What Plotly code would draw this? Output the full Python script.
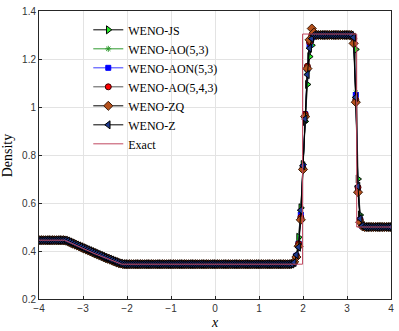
import numpy as np
import plotly.graph_objects as go

# Lax problem, density on a uniform grid (dx = 0.05) over [-4, 4]
X_GRID = np.round(np.linspace(-4.0, 4.0, 161), 2)

# shared smooth parts of the numerical solutions
RHO_LEFT = 0.445            # x = -4.00 .. -3.45  (12 points)
RAREFACTION = [0.444, 0.441, 0.437, 0.433, 0.429, 0.425, 0.421, 0.417, 0.413,
               0.409, 0.405, 0.401, 0.397, 0.393, 0.389, 0.385, 0.381, 0.377,
               0.373, 0.369, 0.366, 0.362, 0.358, 0.355, 0.351, 0.348, 0.346]  # x = -3.40 .. -2.10
RHO_STAR_L = 0.345          # x = -2.05 .. 1.70   (76 points)
RHO_STAR_R = 1.30           # x = 2.30 .. 3.05    (16 points)
RHO_RIGHT = 0.50            # x = 3.45 .. 4.00    (12 points)

# contact discontinuity, x = 1.75 .. 2.25
CONTACT = {
    "WENO-JS":       [0.346, 0.350, 0.370, 0.457, 0.580, 0.760, 0.940, 1.094, 1.210, 1.257, 1.290],
    "WENO-AO(5,3)":  [0.346, 0.352, 0.378, 0.440, 0.560, 0.750, 0.960, 1.150, 1.250, 1.290, 1.300],
    "WENO-AON(5,3)": [0.346, 0.352, 0.380, 0.430, 0.550, 0.750, 0.970, 1.160, 1.260, 1.290, 1.300],
    "WENO-AO(5,4,3)": [0.346, 0.353, 0.380, 0.430, 0.540, 0.745, 0.970, 1.170, 1.270, 1.300, 1.300],
    "WENO-ZQ":       [0.347, 0.355, 0.375, 0.420, 0.530, 0.740, 0.960, 1.160, 1.280, 1.327, 1.310],
    "WENO-Z":        [0.346, 0.352, 0.384, 0.416, 0.570, 0.755, 0.950, 1.135, 1.245, 1.285, 1.300],
}

# shock, x = 3.10 .. 3.40
SHOCK = {
    "WENO-JS":       [1.298, 1.285, 1.240, 0.700, 0.550, 0.510, 0.502],
    "WENO-AO(5,3)":  [1.298, 1.290, 1.060, 0.660, 0.530, 0.505, 0.500],
    "WENO-AON(5,3)": [1.299, 1.290, 1.050, 0.660, 0.530, 0.503, 0.500],
    "WENO-AO(5,4,3)": [1.299, 1.285, 1.030, 0.665, 0.530, 0.505, 0.500],
    "WENO-ZQ":       [1.300, 1.265, 1.020, 0.645, 0.520, 0.503, 0.500],
    "WENO-Z":        [1.299, 1.290, 1.040, 0.670, 0.535, 0.505, 0.500],
}

EXACT_X = [-4.0, -3.42, -2.75, -2.12, 1.99, 1.99, 3.22, 3.22, 4.0]
EXACT_RHO = [0.445, 0.445, 0.390, 0.345, 0.345, 1.304, 1.304, 0.500, 0.500]

STYLE = {
    "WENO-JS":        {"line": "#000000", "symbol": "triangle-right", "fill": "#22ee22", "edge": "#000000", "size": 7},
    "WENO-AO(5,3)":   {"line": "#2e9a2e", "symbol": "asterisk-open", "fill": "#2e9a2e", "edge": "#2e9a2e", "size": 5},
    "WENO-AON(5,3)":  {"line": "#3a3aff", "symbol": "square", "fill": "#0000ff", "edge": "#0000ff", "size": 5},
    "WENO-AO(5,4,3)": {"line": "#555555", "symbol": "circle", "fill": "#ff0000", "edge": "#3a0000", "size": 6},
    "WENO-ZQ":        {"line": "#000000", "symbol": "diamond", "fill": "#b4501c", "edge": "#3a1a08", "size": 7},
    "WENO-Z":         {"line": "#000000", "symbol": "triangle-left", "fill": "#1f3a8f", "edge": "#000000", "size": 7},
}


def scheme_profile(name):
    rho = ([RHO_LEFT] * 12 + RAREFACTION + [RHO_STAR_L] * 76 + CONTACT[name]
           + [RHO_STAR_R] * 16 + SHOCK[name] + [RHO_RIGHT] * 12)
    return np.array(rho)


fig = go.Figure()

for name, st in STYLE.items():
    fig.add_trace(go.Scatter(
        x=X_GRID, y=scheme_profile(name), name=name, mode="lines+markers",
        line=dict(color=st["line"], width=1),
        marker=dict(symbol=st["symbol"], size=st["size"], color=st["fill"],
                    line=dict(color=st["edge"], width=1)),
    ))

fig.add_trace(go.Scatter(
    x=EXACT_X, y=EXACT_RHO, name="Exact", mode="lines",
    line=dict(color="#c04860", width=1),
))

axis_common = dict(
    showgrid=True, gridcolor="#e3e3e3", gridwidth=1,
    showline=True, linecolor="#262626", linewidth=1, mirror=True,
    ticks="inside", ticklen=3, tickcolor="#262626",
    tickfont=dict(family="Liberation Sans, Arial", size=10, color="#333333"),
    zeroline=False,
)

fig.update_layout(
    width=399, height=331,
    margin=dict(l=39, r=5, t=5, b=32),
    paper_bgcolor="white", plot_bgcolor="white",
    showlegend=True,
    legend=dict(x=0.14, y=0.985, xanchor="left", yanchor="top",
                bgcolor="rgba(0,0,0,0)", borderwidth=0,
                font=dict(family="Liberation Serif, Times New Roman, serif", size=12, color="#000")),
    annotations=[
        dict(text="Density", x=-0.09, y=0.5, xref="paper", yref="paper", textangle=-90,
             showarrow=False, xanchor="center", yanchor="middle",
             font=dict(family="Liberation Serif, serif", size=14, color="#000")),
        dict(text="<i>x</i>", x=0.5, y=-0.082, xref="paper", yref="paper",
             showarrow=False, xanchor="center", yanchor="middle",
             font=dict(family="Liberation Serif, serif", size=14, color="#000")),
    ],
)
fig.update_xaxes(range=[-4, 4], dtick=1, **axis_common)
fig.update_yaxes(range=[0.2, 1.4], dtick=0.2, **axis_common)

# drop the default page margin so the 399x331 figure fills the window
fig.write_html("out.html", config={"displayModeBar": False},
               post_script="document.body.style.margin='0';")
